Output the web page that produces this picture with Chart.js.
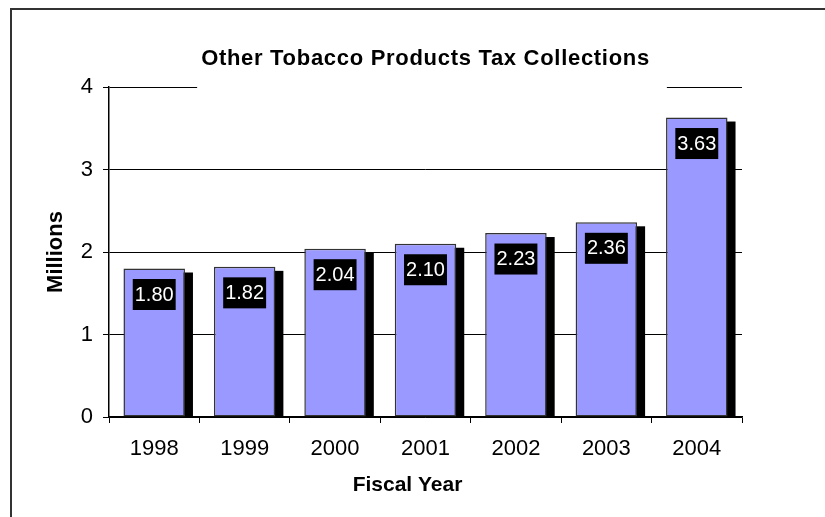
<!DOCTYPE html>
<html>
<head>
<meta charset="utf-8">
<script src="https://cdn.jsdelivr.net/npm/chart.js@4"></script>
<style>
html, body { margin:0; padding:0; background:#fff; overflow:hidden; }
#wrap { position:relative; width:825px; height:517px; overflow:hidden; }
#frame { position:absolute; left:10px; top:8px; width:840px; height:540px; border:2px solid #333; pointer-events:none; }
</style>
</head>
<body>
<div id="wrap">
  <canvas id="chart" width="825" height="517"></canvas>
  <div id="frame"></div>
</div>
<script>
const years = ["1998", "1999", "2000", "2001", "2002", "2003", "2004"]
const collections = [1.80, 1.82, 2.04, 2.10, 2.23, 2.36, 3.63]
const yMin = 0
const yMax = 4
const yStep = 1
const chartTitle = "Other Tobacco Products Tax Collections"
const xTitle = "Fiscal Year"
const yTitle = "Millions"

const FONT = "'Liberation Sans', Arial, sans-serif"

// black drop shadow, white-on-black value boxes and the titles
const decor = {
    id: "decor",
    beforeDatasetsDraw(chart){
        const ctx = chart.ctx
        const area = chart.chartArea
        // white patch behind the title (hides the top gridline there)
        ctx.save()
        ctx.font = "bold 22px " + FONT
        ctx.letterSpacing = "0.7px"
        const tw = ctx.measureText(chartTitle).width
        const cx = (area.left + area.right) / 2
        const left = cx - tw/2
        ctx.fillStyle = "#fff"
        ctx.fillRect(left - 4, 40, tw + 21, 52)
        ctx.fillStyle = "#000"
        ctx.textAlign = "left"
        ctx.textBaseline = "middle"
        ctx.fillText(chartTitle, left, 59)
        ctx.restore()
        // shadows
        ctx.save()
        ctx.beginPath()
        ctx.rect(area.left, area.top, area.right - area.left, area.bottom - area.top)
        ctx.clip()
        ctx.fillStyle = "#000"
        chart.getDatasetMeta(0).data.forEach(bar=>{
            const p = bar.getProps(["x", "y", "base", "width"], true)
            ctx.fillRect(p.x - p.width/2 + 8, p.y + 4, p.width, p.base - p.y)
        })
        ctx.restore()
    },
    afterDatasetsDraw(chart){
        const ctx = chart.ctx
        ctx.save()
        ctx.font = "20px " + FONT
        ctx.textAlign = "center"
        ctx.textBaseline = "middle"
        chart.getDatasetMeta(0).data.forEach((bar, i)=>{
            const p = bar.getProps(["x", "y"], true)
            const txt = collections[i].toFixed(2)
            const w = ctx.measureText(txt).width + 4
            const top = p.y + 10.5
            ctx.fillStyle = "#000"
            ctx.fillRect(p.x - w/2, top, w, 31)
            ctx.fillStyle = "#fff"
            ctx.fillText(txt, p.x, top + 16)
        })
        // x axis title
        const area = chart.chartArea
        ctx.font = "bold 21px " + FONT
        ctx.fillStyle = "#000"
        ctx.fillText(xTitle, (area.left + area.right) / 2 - 18, 485)
        ctx.restore()
    }
}

const ctx = document.getElementById("chart")
new Chart(ctx, {
    type: "bar",
    data: {
        labels: years,
        datasets: [{
            data: collections,
            backgroundColor: "#9999FF",
            borderColor: "#333",
            borderWidth: 1.5,
            borderSkipped: false,
            categoryPercentage: 1,
            barPercentage: 0.68
        }]
    },
    options: {
        responsive: false,
        animation: false,
        events: [],
        layout: { padding: { top: 87, right: 83, left: 0, bottom: 0 } },
        plugins: {
            legend: { display: false },
            tooltip: { enabled: false },
            title: { display: false }
        },
        scales: {
            x: {
                afterFit: scale=>{ scale.height = 100 },
                grid: { drawOnChartArea: false, drawTicks: true, tickLength: 6, color: "#000", offset: true },
                border: { color: "#000", width: 1.5 },
                ticks: { color: "#000", font: { family: FONT, size: 22 }, padding: 13 }
            },
            y: {
                min: yMin,
                max: yMax,
                afterFit: scale=>{ scale.width = 109 },
                grid: { color: "#000", lineWidth: 1, tickLength: 6 },
                border: { color: "#000", width: 1.5 },
                ticks: { stepSize: yStep, color: "#000", font: { family: FONT, size: 22 }, padding: 10 },
                title: { display: true, text: yTitle, color: "#000", font: { family: FONT, size: 22, weight: "bold" }, padding: { top: 43 } }
            }
        }
    },
    plugins: [decor]
})
</script>
</body>
</html>
